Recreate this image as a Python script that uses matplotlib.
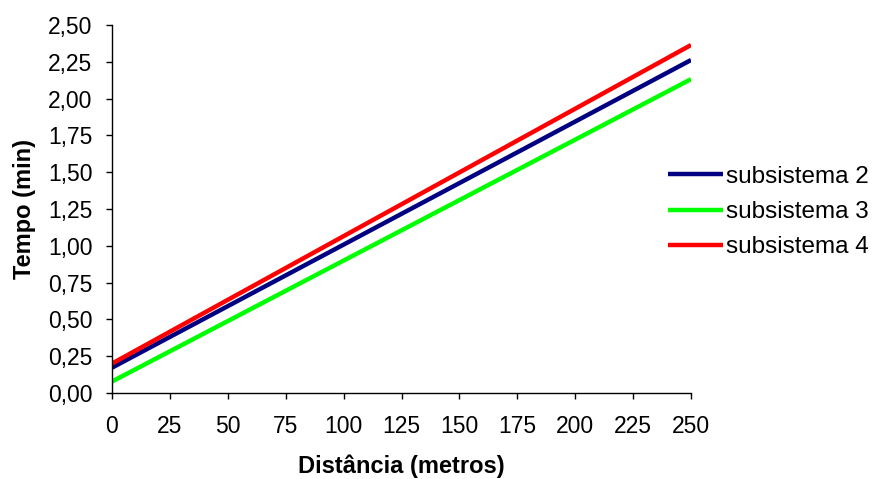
import matplotlib.pyplot as plt
from matplotlib.ticker import FuncFormatter

plt.rcParams["font.family"] = ["Liberation Sans", "DejaVu Sans"]

distancia = [0, 250]
series = ["subsistema 2", "subsistema 3", "subsistema 4"]
tempo_s2 = [0.172, 2.262]
tempo_s3 = [0.078, 2.132]
tempo_s4 = [0.200, 2.364]
cores = ["#000080", "#00ff00", "#ff0000"]

W, H = 874, 479
fig = plt.figure(figsize=(W / 100, H / 100), dpi=100)
ax = fig.add_axes([112 / W, 1 - 393 / H, (691 - 112) / W, (393 - 25) / H])

for nome, valores, cor in zip(series, [tempo_s2, tempo_s3, tempo_s4], cores):
    ax.plot(distancia, valores, color=cor, lw=3.2, label=nome, solid_capstyle="butt")

ax.set_xlim(0, 250)
ax.set_ylim(0, 2.5)
ax.set_xticks(range(0, 251, 25))
ax.set_yticks([i * 0.25 for i in range(11)])
ax.yaxis.set_major_formatter(FuncFormatter(lambda v, p: f"{v:.2f}".replace(".", ",")))
ax.tick_params(labelsize=16.5, direction="out", length=4, width=1)
ax.tick_params(axis="x", pad=12)
ax.tick_params(axis="y", pad=10)
ax.spines["top"].set_visible(False)
ax.spines["right"].set_visible(False)
for s in ("left", "bottom"):
    ax.spines[s].set_linewidth(1)

ax.set_xlabel("Distância (metros)", fontsize=17, fontweight="bold", labelpad=12)
ax.set_ylabel("Tempo (min)", fontsize=17, fontweight="bold", labelpad=9)

fig.legend(loc="center left", bbox_to_anchor=(668 / W, 1 - 212 / H), frameon=False,
           fontsize=17.5, handlelength=2.25, handletextpad=0.15, labelspacing=0.55,
           borderpad=0, borderaxespad=0)

fig.savefig("out.png", dpi=100)
